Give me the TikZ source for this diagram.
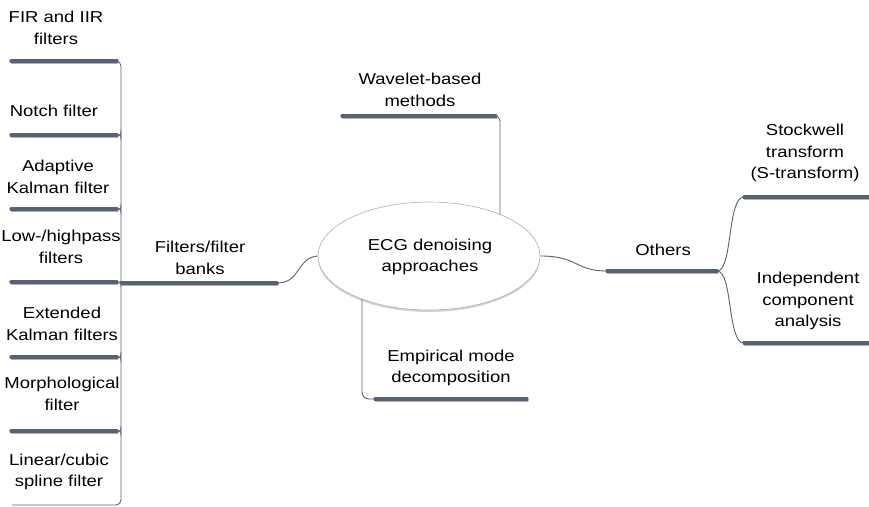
\documentclass[tikz,border=0pt]{standalone}
\usepackage{fontspec}
\setmainfont{Liberation Sans}[FakeStretch=1.17]
\usetikzlibrary{shadows,shapes.geometric}
\definecolor{barc}{RGB}{88,96,116}
\definecolor{shadc}{RGB}{170,174,184}
\definecolor{ellc}{RGB}{175,175,180}
\tikzset{
  lbl/.style={align=center, inner sep=0pt, font=\fontsize{15.8}{21.5}\selectfont},
  bar/.style={draw=barc, line width=3.2pt, line cap=round},
  barshadow/.style={draw=shadc, line width=2.4pt, line cap=round},
  link/.style={draw=barc, line width=0.9pt},
  hub/.style={ellipse, draw=ellc, line width=0.6pt, fill=white,
    minimum width=222pt, minimum height=108pt, inner sep=0pt,
    drop shadow={opacity=0.35, shadow xshift=0pt, shadow yshift=-2pt}},
}
% thick underline bar with a soft shadow beneath it
\newcommand{\topicbar}[2]{%
  \draw[barshadow] ([xshift=0.6pt,yshift=-1.6pt]#1) -- ([xshift=0.6pt,yshift=-1.6pt]#2);
  \draw[bar] (#1) -- (#2);}
\begin{document}
\begin{tikzpicture}[x=1pt,y=-1pt]
\useasboundingbox (0,0) rectangle (869,506);

% central topic
\node[hub] (ecg) at (429,256) {};
\node[lbl] (ecgt) at (430,257) {ECG denoising\\approaches};

% left branch: filters
\node[lbl] (fir)   at (56,28)  {FIR and IIR\\filters};
\node[lbl] (notch) at (54,111) {Notch filter};
\node[lbl] (akf)   at (58,177) {Adaptive\\Kalman filter};
\node[lbl] (lhp)   at (61,247) {Low-/highpass\\filters};
\node[lbl] (ekf)   at (62,324) {Extended\\Kalman filters};
\node[lbl] (morph) at (62,394) {Morphological\\filter};
\node[lbl] (spl)   at (59,472) {Linear/cubic\\spline filter};
\node[lbl] (filt)  at (200,258) {Filters/filter\\banks};

\coordinate (firL) at (11,61);   \coordinate (firR) at (117,61);
\coordinate (notL) at (11,135);  \coordinate (notR) at (117,135);
\coordinate (akfL) at (11,209);  \coordinate (akfR) at (117,209);
\coordinate (lhpL) at (11,282);  \coordinate (lhpR) at (117,282);
\coordinate (ekfL) at (11,357);  \coordinate (ekfR) at (117,357);
\coordinate (morL) at (11,431);  \coordinate (morR) at (117,431);
\coordinate (splL) at (12,505);
\coordinate (filL) at (121,283); \coordinate (filR) at (277,283);

% spine of the filter list
\draw[link, rounded corners=5] (firR) -| (121,505) -- (splL);
\foreach \c in {notR,akfR,lhpR,ekfR,morR}
  \draw[link] (\c) .. controls ([xshift=4pt]\c) .. ([xshift=4pt,yshift=-5pt]\c);
\foreach \c in {notR,akfR,ekfR,morR}
  \draw[link] (\c) .. controls ([xshift=4pt]\c) .. ([xshift=4pt,yshift=5pt]\c);

\topicbar{firL}{firR}
\topicbar{notL}{notR}
\topicbar{akfL}{akfR}
\topicbar{lhpL}{lhpR}
\topicbar{ekfL}{ekfR}
\topicbar{morL}{morR}
\topicbar{filL}{filR}
\draw[link] (filR) .. controls (301,283) and (296,258) .. (ecg.west);

% top branch: wavelets
\node[lbl] (wav) at (420,90) {Wavelet-based\\methods};
\coordinate (wavL) at (342,116); \coordinate (wavR) at (496,116);
\draw[link, rounded corners=5] (500,214.5) |- (wavR);
\topicbar{wavL}{wavR}

% bottom branch: EMD
\node[lbl] (emd) at (451,368) {Empirical mode\\decomposition};
\coordinate (emdL) at (375,399); \coordinate (emdR) at (527,399);
\draw[link, rounded corners=7] (362,299) |- (emdL);
\topicbar{emdL}{emdR}

% right branch: others
\node[lbl] (oth) at (663,250) {Others};
\coordinate (othL) at (607,271); \coordinate (othR) at (717,271);
\draw[link] (ecg.east) .. controls (578,256) and (575,271) .. (othL);
\topicbar{othL}{othR}

\node[lbl] (st)  at (805,153) {Stockwell\\transform\\(S-transform)};
\node[lbl] (ica) at (808,301) {Independent\\component\\analysis};
\coordinate (stL) at (744,197);  \coordinate (stR) at (869,197);
\coordinate (icaL) at (744,343); \coordinate (icaR) at (869,343);
\draw[link] (othR) .. controls (733,271) and (727,197) .. (stL);
\draw[link] (othR) .. controls (733,271) and (727,343) .. (icaL);
\topicbar{stL}{stR}
\topicbar{icaL}{icaR}
\end{tikzpicture}
\end{document}
